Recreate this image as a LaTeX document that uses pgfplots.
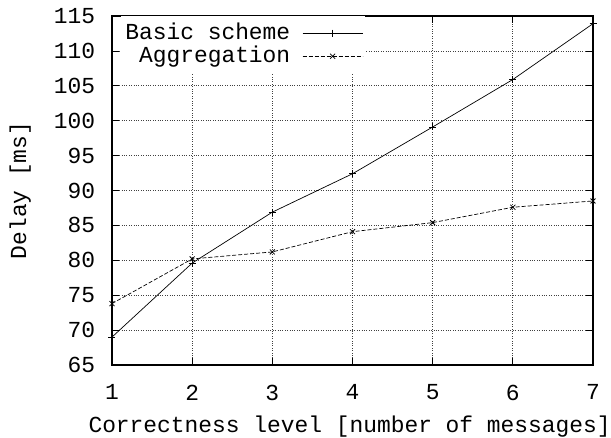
\documentclass[border=0pt]{standalone}
\usepackage{fontspec}
\setmainfont{Liberation Mono}
\usepackage{pgfplots}
\pgfplotsset{compat=1.18}
\begin{document}
\fontsize{22.9}{26}\selectfont
\begin{tikzpicture}
\begin{axis}[
  scale only axis, width=481pt, height=349pt,
  xmin=1, xmax=7, ymin=65, ymax=115,
  xtick={1,2,3,4,5,6,7}, ytick={65,70,75,80,85,90,95,100,105,110,115},
  tick align=inside, major tick length=7pt,
  grid=major, grid style={dotted, black!75, line width=0.7pt},
  axis line style={line width=1.2pt},
  every tick/.style={black, line width=0.8pt},
  /pgf/number format/assume math mode=true,
  tick label style={font=\fontsize{22.9}{26}\selectfont},
  xticklabel style={yshift=-12pt},
  yticklabel style={xshift=-9pt},
  xlabel={Correctness level [number of messages]},
  ylabel={Delay [ms]},
  xlabel style={at={(axis description cs:0.494,-0.176)}, anchor=center},
  ylabel style={at={(axis description cs:-0.191,0.5)}, anchor=center},
  legend plot pos=right, legend cell align=right,
  legend style={at={(rel axis cs:0.019,1)}, anchor=north west, draw=none, fill=white,
    font=\fontsize{22.9}{26}\selectfont, inner xsep=2pt, inner ysep=5pt,
    row sep=-1pt, column sep=10pt},
  legend image code/.code={\draw[mark repeat=2,mark phase=2] plot coordinates {(0pt,0pt) (30pt,0pt) (60pt,0pt)};},
]
\addplot[black, line width=0.7pt, mark=+, mark size=3.5pt, mark options={solid, line width=0.8pt}]
  coordinates {(1,69.0) (2,79.6) (3,86.9) (4,92.4) (5,99.1) (6,105.9) (7,113.9)};
\addlegendentry{Basic scheme}
\addplot[black, line width=0.7pt, dash pattern=on 4pt off 2pt, mark=x, mark size=3.5pt, mark options={solid, line width=0.8pt}]
  coordinates {(1,73.8) (2,80.2) (3,81.2) (4,84.1) (5,85.4) (6,87.6) (7,88.5)};
\addlegendentry{Aggregation}
\coordinate (sw) at (rel axis cs:0,0);
\coordinate (ne) at (rel axis cs:1,1);
\end{axis}
\pgfresetboundingbox
\path ([xshift=-112pt,yshift=-72pt]sw) rectangle ([xshift=18pt,yshift=16pt]ne);
\end{tikzpicture}
\end{document}
